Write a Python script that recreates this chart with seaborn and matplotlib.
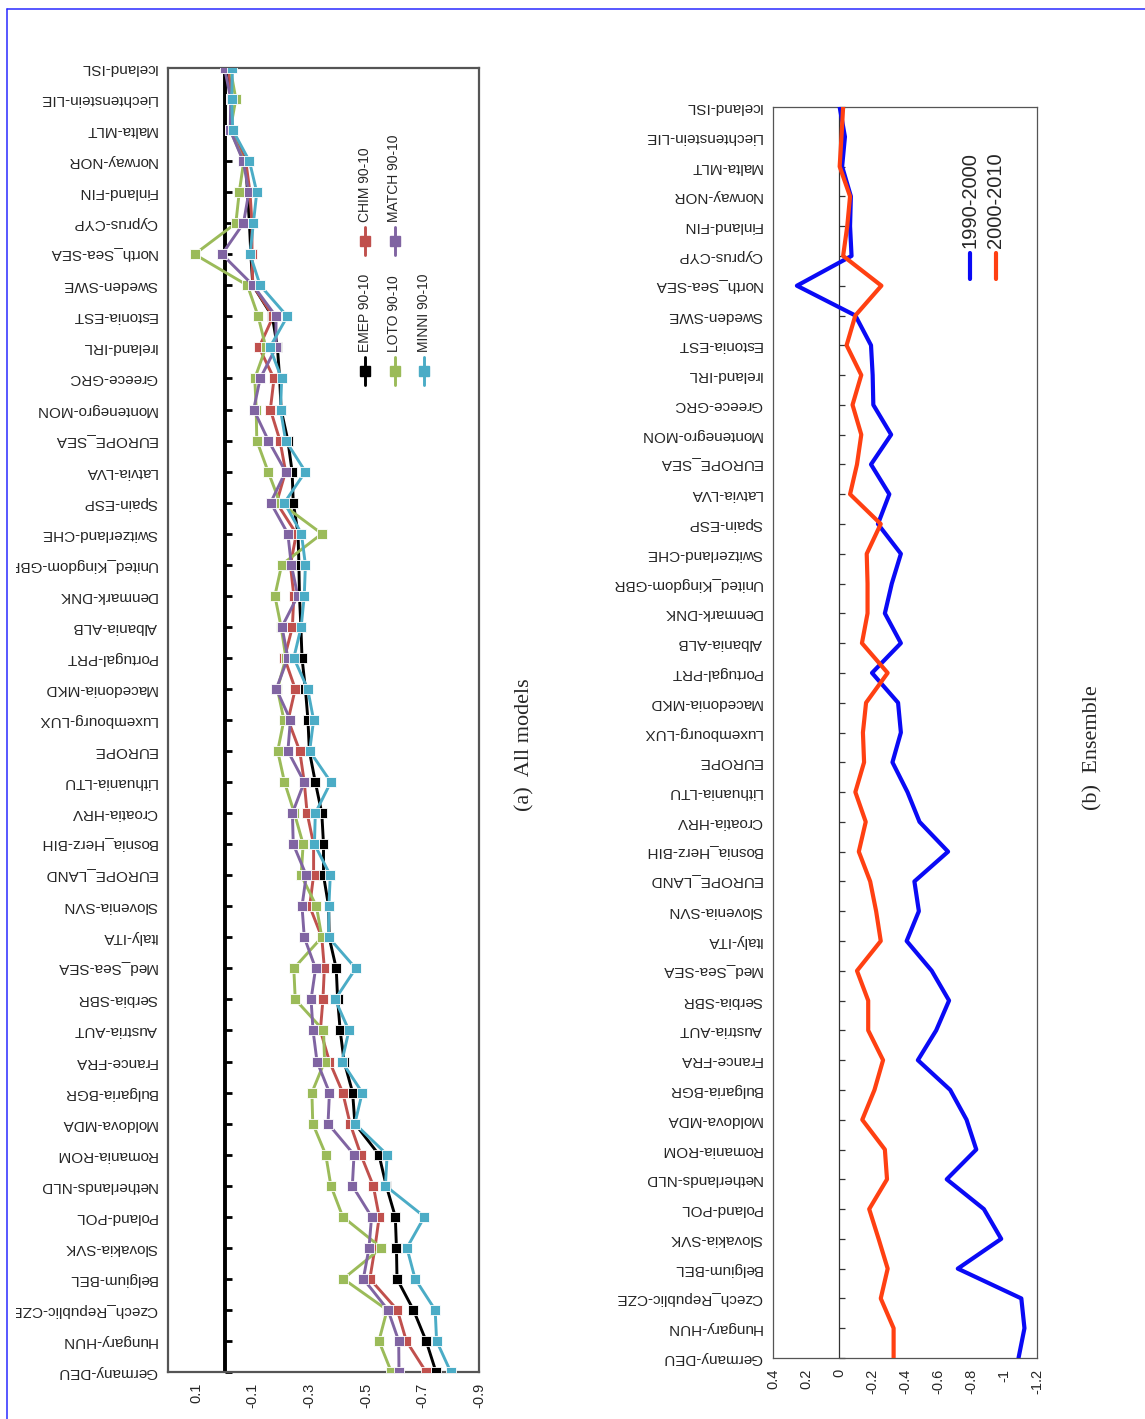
import numpy as np
import pandas as pd
import matplotlib
matplotlib.use("Agg")
import matplotlib.pyplot as plt
import seaborn as sns
from matplotlib.lines import Line2D
from matplotlib.transforms import Bbox, TransformedBbox

# Countries, listed from top (Iceland) to bottom (Germany) as in the picture
countries = [
    "Iceland-ISL", "Liechtenstein-LIE", "Malta-MLT", "Norway-NOR", "Finland-FIN",
    "Cyprus-CYP", "North_Sea-SEA", "Sweden-SWE", "Estonia-EST", "Ireland-IRL",
    "Greece-GRC", "Montenegro-MON", "EUROPE_SEA", "Latvia-LVA", "Spain-ESP",
    "Switzerland-CHE", "United_Kingdom-GBR", "Denmark-DNK", "Albania-ALB",
    "Portugal-PRT", "Macedonia-MKD", "Luxembourg-LUX", "EUROPE", "Lithuania-LTU",
    "Croatia-HRV", "Bosnia_Herz-BIH", "EUROPE_LAND", "Slovenia-SVN", "Italy-ITA",
    "Med_Sea-SEA", "Serbia-SBR", "Austria-AUT", "France-FRA", "Bulgaria-BGR",
    "Moldova-MDA", "Romania-ROM", "Netherlands-NLD", "Poland-POL", "Slovakia-SVK",
    "Belgium-BEL", "Czech_Republic-CZE", "Hungary-HUN", "Germany-DEU",
]

# (a) all models, 90-10 change
emep = [-0.010, -0.025, -0.025, -0.075, -0.081, -0.088, -0.093, -0.100, -0.169, -0.187,
        -0.195, -0.200, -0.224, -0.239, -0.243, -0.260, -0.263, -0.265, -0.270, -0.274,
        -0.286, -0.295, -0.300, -0.321, -0.344, -0.350, -0.350, -0.368, -0.370, -0.395,
        -0.400, -0.409, -0.423, -0.453, -0.461, -0.546, -0.572, -0.604, -0.608, -0.610,
        -0.668, -0.713, -0.748]
chim = [-0.015, -0.024, -0.025, -0.075, -0.090, -0.097, -0.097, -0.100, -0.172, -0.122,
        -0.175, -0.162, -0.196, -0.216, -0.184, -0.254, -0.233, -0.245, -0.240, -0.212,
        -0.250, -0.225, -0.266, -0.282, -0.292, -0.315, -0.315, -0.301, -0.344, -0.353,
        -0.348, -0.339, -0.371, -0.418, -0.444, -0.482, -0.526, -0.547, -0.532, -0.514,
        -0.611, -0.643, -0.713]
loto = [-0.020, -0.040, -0.020, -0.068, -0.052, -0.040, 0.106, -0.081, -0.119, -0.146,
        -0.107, -0.112, -0.114, -0.154, -0.196, -0.344, -0.202, -0.178, -0.200, -0.217,
        -0.187, -0.210, -0.188, -0.212, -0.247, -0.278, -0.271, -0.325, -0.344, -0.245,
        -0.250, -0.350, -0.354, -0.309, -0.312, -0.358, -0.376, -0.418, -0.555, -0.420,
        -0.575, -0.546, -0.590]
match = [0.000, -0.022, -0.020, -0.066, -0.086, -0.067, 0.009, -0.101, -0.182, -0.182,
         -0.126, -0.103, -0.155, -0.216, -0.163, -0.224, -0.236, -0.259, -0.203, -0.224,
         -0.183, -0.233, -0.224, -0.282, -0.240, -0.243, -0.289, -0.274, -0.282, -0.322,
         -0.306, -0.313, -0.327, -0.371, -0.366, -0.458, -0.452, -0.520, -0.511, -0.491,
         -0.578, -0.616, -0.617]
minni = [-0.028, -0.025, -0.029, -0.088, -0.114, -0.102, -0.090, -0.126, -0.222, -0.160,
         -0.202, -0.198, -0.216, -0.286, -0.212, -0.272, -0.286, -0.282, -0.271, -0.245,
         -0.294, -0.315, -0.301, -0.376, -0.321, -0.318, -0.374, -0.369, -0.368, -0.464,
         -0.391, -0.440, -0.415, -0.487, -0.461, -0.575, -0.569, -0.707, -0.645, -0.674,
         -0.745, -0.750, -0.800]

# (b) ensemble
ens_9000 = [-0.004, -0.036, -0.019, -0.072, -0.067, -0.076, 0.255, -0.099, -0.194, -0.204,
            -0.208, -0.316, -0.194, -0.305, -0.236, -0.375, -0.320, -0.278, -0.375, -0.200,
            -0.358, -0.375, -0.324, -0.415, -0.488, -0.661, -0.457, -0.484, -0.410, -0.562,
            -0.667, -0.589, -0.478, -0.674, -0.773, -0.832, -0.653, -0.878, -0.983, -0.720,
            -1.105, -1.124, -1.088]
ens_0010 = [-0.025, -0.015, -0.004, -0.067, -0.050, -0.025, -0.257, -0.099, -0.046, -0.135,
            -0.082, -0.135, -0.109, -0.067, -0.253, -0.168, -0.173, -0.173, -0.139, -0.295,
            -0.164, -0.145, -0.152, -0.099, -0.162, -0.120, -0.189, -0.225, -0.253, -0.109,
            -0.177, -0.177, -0.267, -0.215, -0.141, -0.278, -0.291, -0.183, -0.240, -0.295,
            -0.253, -0.331, -0.331]

models = ["EMEP 90-10", "CHIM 90-10", "LOTO 90-10", "MATCH 90-10", "MINNI 90-10"]
model_vals = [emep, chim, loto, match, minni]
model_colors = ["#000000", "#C0504D", "#9BBB59", "#8064A2", "#4BACC6"]
periods = ["1990-2000", "2000-2010"]
period_vals = [ens_9000, ens_0010]
period_colors = ["#0A0AF5", "#FF4012"]

xticks_a = [0.1, -0.1, -0.3, -0.5, -0.7, -0.9]
xlabels_a = ["0.1", "-0.1", "-0.3", "-0.5", "-0.7", "-0.9"]
xticks_b = [0.4, 0.2, 0.0, -0.2, -0.4, -0.6, -0.8, -1.0, -1.2]
xlabels_b = ["0.4", "0.2", "0", "-0.2", "-0.4", "-0.6", "-0.8", "-1", "-1.2"]

n = len(countries)
pos = np.arange(n)[::-1]  # Germany at 0, Iceland at top

df_a = pd.concat([pd.DataFrame({"pos": pos, "value": v, "model": m})
                  for m, v in zip(models, model_vals)], ignore_index=True)
df_b = pd.concat([pd.DataFrame({"pos": pos, "value": v, "period": p})
                  for p, v in zip(periods, period_vals)], ignore_index=True)

sns.set_style("white")
plt.rcParams["font.family"] = ["Liberation Sans", "DejaVu Sans"]

W, H = 1145, 1419
fig = plt.figure(figsize=(W / 100, H / 100), dpi=100)


def fx(px):
    return px / W


def fy(py):
    return 1 - py / H


ax_a = fig.add_axes([fx(168), fy(1372), 311 / W, 1304 / H])
ax_b = fig.add_axes([fx(773), fy(1358), 264 / W, 1251 / H])

# ---------- (a) all models ----------
ax = ax_a
ax.set_xlim(0.2, -0.9)
ax.set_ylim(0, n - 1)
ax.axvline(0, color="black", lw=2.8, zorder=1.5)
sns.lineplot(data=df_a, x="value", y="pos", hue="model", hue_order=models,
             palette=model_colors, orient="y", sort=False, estimator=None,
             marker="s", markersize=6.5, markeredgewidth=0.6, linewidth=2.1,
             legend=False, ax=ax, zorder=3)
ax.set_xlabel("")
ax.set_ylabel("")
ax.set_yticks(pos)
ax.set_yticklabels(countries, rotation=180, fontsize=11, va="center")
ax.tick_params(axis="y", length=0, pad=8)
ax.set_xticks(xticks_a)
ax.set_xticklabels(xlabels_a, rotation=90, fontsize=10.5)
ax.tick_params(axis="x", length=4, width=1, color="#555555", direction="out", pad=4)
for sp in ax.spines.values():
    sp.set_color("#555555")
    sp.set_linewidth(1.6)
sec = ax.secondary_yaxis(0.2 / 1.1)
sec.set_yticks(pos)
sec.set_yticklabels([])
sec.tick_params(direction="in", length=5, width=2, color="black")
sec.spines["left"].set_visible(False)

clip = TransformedBbox(Bbox([[16 / W, 0], [1, 1]]), fig.transFigure)
for lab in ax.get_yticklabels():
    lab.set_clip_box(clip)
    lab.set_clip_on(True)

# legend of (a): two rows, three columns, drawn rotated
for i, (m, c) in enumerate(zip(models, model_colors)):
    col, row = [(0, 0), (0, 1), (1, 0), (1, 1), (2, 0)][i]
    x = 365 + col * 29.5
    y0 = 385 if row == 0 else 255
    ax.plot([fx(x), fx(x)], [fy(y0), fy(y0 - 28)], color=c, lw=2.1,
            transform=fig.transFigure, clip_on=False)
    ax.plot([fx(x)], [fy(y0 - 14)], color=c, marker="s", markersize=7,
            transform=fig.transFigure, clip_on=False)
    fig.text(fx(x), fy(y0 - 33), m, rotation=90, ha="center", va="bottom", fontsize=10)

# ---------- (b) ensemble ----------
ax = ax_b
ax.set_xlim(0.4, -1.2)
ax.set_ylim(0, n - 1)
ax.axvline(0, color="#333333", lw=0.9, zorder=1.5)
sns.lineplot(data=df_b, x="value", y="pos", hue="period", hue_order=periods,
             palette=period_colors, orient="y", sort=False, estimator=None,
             linewidth=3, legend=False, ax=ax, zorder=3)
ax.set_xlabel("")
ax.set_ylabel("")
ax.set_yticks(pos)
ax.set_yticklabels(countries, rotation=180, fontsize=11, va="center")
ax.tick_params(axis="y", length=0, pad=8)
ax.set_xticks(xticks_b)
ax.set_xticklabels(xlabels_b, rotation=90, fontsize=10.5)
ax.tick_params(axis="x", length=4, width=0.9, color="#333333", direction="out", pad=4)
for sp in ax.spines.values():
    sp.set_color("#555555")
    sp.set_linewidth(0.9)
sec = ax.secondary_yaxis(0.4 / 1.6)
sec.set_yticks(pos)
sec.set_yticklabels([])
sec.tick_params(direction="in", length=4, width=0.9, color="#333333")
sec.spines["left"].set_visible(False)

for i, (p, c) in enumerate(zip(periods, period_colors)):
    x = 970 + i * 26
    ax.plot([fx(x), fx(x)], [fy(279), fy(253)], color=c, lw=3,
            transform=fig.transFigure, clip_on=False)
    fig.text(fx(x), fy(248), p, rotation=90, ha="center", va="bottom", fontsize=14.5)

# captions
fig.text(fx(525), fy(745), "(a)  All models", rotation=90, ha="center", va="center",
         fontsize=16, family=["Liberation Serif", "DejaVu Serif"])
fig.text(fx(1093), fy(748), "(b)  Ensemble", rotation=90, ha="center", va="center",
         fontsize=16, family=["Liberation Serif", "DejaVu Serif"])

# blue page frame
fig.add_artist(Line2D([fx(7), fx(7)], [0, fy(9)], transform=fig.transFigure,
                      color="#2a2aff", lw=1.1))
fig.add_artist(Line2D([fx(7), 1], [fy(9), fy(9)], transform=fig.transFigure,
                      color="#2a2aff", lw=1.1))

fig.savefig("out.png", dpi=100)
